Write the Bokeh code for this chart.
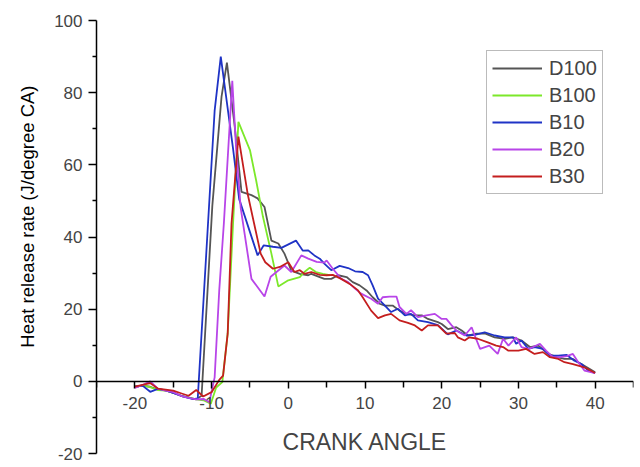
from bokeh.plotting import figure
from bokeh.models import Range1d, FixedTicker, Legend, LegendItem, Title
from bokeh.embed import file_html
from bokeh.resources import INLINE

# ---- data (crank angle, heat release rate) ----
series_names = ["D100", "B100", "B10", "B20", "B30"]
series_colors = ["#555555", "#7CE82A", "#1F33C6", "#B845E8", "#C41E1E"]

D100 = [(-20, -1.5), (-19, -1.2), (-18, -1.5), (-17, -2.3), (-16, -2.5), (-15, -3.2), (-14, -4.0),
        (-13, -4.5), (-12, -5.0), (-11.3, -4.0), (-9.9, 48.7), (-8.7, 78.9), (-8.0, 88.3), (-7.0, 71.0),
        (-6.1, 52.5), (-4.8, 51.6), (-4.0, 50.7), (-3.1, 48.3), (-2.2, 39.0), (-1.3, 38.2), (-0.5, 35.4),
        (0.4, 30.7), (1.5, 29.8), (2.6, 29.4), (3.0, 29.8), (4.1, 28.9), (4.7, 28.4), (5.6, 28.4), (6.5, 29.4),
        (7.6, 28.9), (8.4, 27.5), (9.3, 26.6), (10.2, 25.2), (11.0, 23.3), (11.9, 21.5), (12.6, 21.0),
        (13.6, 21.0), (14.5, 19.6), (15.4, 18.7), (16.5, 18.3), (17.4, 18.3), (18.2, 17.3), (19.5, 16.4),
        (20.0, 15.9), (20.8, 14.5), (21.9, 15.0), (22.6, 14.1), (23.4, 12.7), (24.5, 13.2), (25.7, 13.2),
        (26.9, 12.2), (28.2, 11.8), (29.3, 12.2), (30.4, 11.3), (31.5, 9.5), (32.6, 9.9), (33.9, 7.6),
        (35.0, 6.7), (36.0, 6.2), (37.1, 6.2), (38.2, 4.8), (39.3, 3.4), (40.0, 2.5)]

B100 = [(-20, -1.5), (-19, -1.2), (-18, -1.6), (-17, -2.4), (-16, -2.6), (-15, -3.1), (-14, -4.0),
        (-13, -4.5), (-12, -5.0), (-11, -5.3), (-10.1, -6.2), (-9.4, -1.7), (-8.6, -0.2), (-7.9, 13.2),
        (-7.2, 43.7), (-6.5, 71.9), (-5.0, 64.1), (-4.2, 55.8), (-3.3, 45.6), (-2.2, 35.4), (-1.3, 26.3),
        (0.0, 28.0), (1.5, 28.9), (2.1, 30.3), (2.8, 31.5), (3.6, 30.3), (4.5, 29.8), (5.4, 29.4)]

B10 = [(-20, -1.5), (-19, -1.2), (-18, -2.9), (-17, -2.1), (-16, -2.5), (-15, -3.2), (-14, -4.0),
       (-13, -4.6), (-12.4, -4.9), (-11.8, -4.7), (-9.6, 75.0), (-8.8, 90.0), (-7.2, 64.5), (-6.4, 50.5),
       (-4.0, 34.9), (-3.2, 37.7), (-2.0, 37.3), (-0.9, 37.0), (1.0, 39.0), (1.9, 36.2), (2.6, 36.3),
       (3.4, 34.9), (4.1, 34.0), (4.7, 32.6), (5.6, 30.8), (6.7, 32.0), (7.8, 31.4), (8.7, 30.5), (9.7, 30.3),
       (10.4, 29.4), (11.0, 26.6), (11.7, 22.9), (12.6, 21.0), (13.4, 19.2), (14.3, 20.1), (15.2, 18.3),
       (16.0, 18.7), (16.9, 16.9), (18.2, 16.4), (19.5, 15.6), (20.8, 13.0), (21.9, 14.1), (23.2, 12.7),
       (24.3, 12.9), (25.6, 13.6), (26.9, 12.7), (28.2, 12.2), (29.3, 12.2), (29.7, 10.4), (30.4, 11.3),
       (31.3, 9.0), (32.1, 9.5), (33.2, 9.0), (34.1, 7.1), (35.2, 7.1), (36.3, 7.3), (37.3, 5.7),
       (38.2, 4.8), (39.1, 3.0), (40.0, 2.3)]

B20 = [(-20, -1.8), (-19, -1.0), (-18, 0.0), (-17, -2.0), (-16, -2.6), (-15, -3.0), (-14, -4.0),
       (-13, -4.6), (-12, -5.0), (-11, -4.9), (-10.3, -5.8), (-9.6, 1.1), (-9.0, 25.2), (-8.4, 43.7),
       (-7.3, 83.3), (-6.8, 64.5), (-6.2, 48.0), (-4.8, 28.4), (-3.1, 23.5), (-2.3, 29.0), (-0.5, 32.1),
       (0.4, 30.3), (1.7, 34.9), (2.6, 34.0), (3.7, 33.1), (4.7, 32.9), (5.0, 33.5), (5.8, 31.2),
       (6.9, 28.4), (7.8, 27.5), (8.7, 25.7), (9.5, 24.3), (10.8, 22.9), (11.7, 21.5), (12.3, 23.3),
       (13.2, 23.5), (14.1, 23.5), (14.5, 20.6), (15.4, 18.7), (16.0, 19.7), (16.9, 17.8), (18.0, 18.3),
       (19.1, 18.7), (20.0, 17.3), (20.6, 17.3), (21.3, 15.5), (21.9, 14.1), (23.0, 12.7), (23.9, 15.0),
       (24.3, 12.7), (25.0, 9.0), (26.2, 9.9), (27.3, 7.6), (28.0, 11.8), (28.7, 9.9), (29.7, 12.2),
       (30.4, 9.5), (31.3, 9.0), (31.9, 9.5), (32.8, 10.4), (33.6, 8.5), (34.5, 6.7), (35.4, 6.7),
       (36.3, 7.0), (37.1, 7.6), (37.8, 5.3), (38.6, 3.0), (40.0, 2.3)]

B30 = [(-20, -1.5), (-19, -1.0), (-18, -0.5), (-17, -2.0), (-16, -2.3), (-15, -2.6), (-14, -3.3),
       (-13, -4.0), (-12, -2.4), (-11.1, -4.2), (-10, -3.0), (-9.0, 0.4), (-8.5, 1.6), (-7.9, 13.2),
       (-7.4, 43.7), (-6.5, 67.8), (-5.3, 52.0), (-3.6, 35.4), (-3.0, 33.0), (-2.0, 31.2), (-1.1, 31.7),
       (0.0, 33.0), (0.8, 30.3), (1.5, 30.8), (2.1, 29.8), (3.0, 30.3), (4.1, 29.5), (5.0, 29.4),
       (5.8, 29.5), (6.9, 28.4), (8.0, 27.0), (9.1, 25.2), (9.7, 23.3), (10.8, 19.6), (11.7, 17.5),
       (12.6, 18.3), (13.4, 18.7), (14.5, 16.9), (15.6, 16.2), (16.5, 15.5), (17.4, 14.1), (18.2, 15.5),
       (19.5, 15.5), (20.6, 13.2), (21.7, 13.4), (22.1, 12.2), (23.0, 11.3), (23.6, 12.2), (24.7, 11.8),
       (26.0, 10.8), (27.1, 9.9), (28.0, 9.5), (28.7, 8.5), (30.0, 8.5), (31.0, 9.0), (32.1, 7.6),
       (33.2, 8.1), (34.1, 6.7), (35.2, 6.2), (36.0, 5.3), (37.1, 4.8), (38.6, 3.9), (40.0, 2.3)]

x_major_ticks = [-20, -10, 0, 10, 20, 30, 40]
x_minor_ticks = [-25, -15, -5, 5, 15, 25, 35, 45]
y_major_ticks = [-20, 0, 20, 40, 60, 80, 100]
y_minor_ticks = [-10, 10, 30, 50, 70, 90]
x_title = "CRANK ANGLE"
y_title = "Heat release rate (J/degree CA)"

FONT = "Liberation Sans"

p = figure(width=640, height=467, x_range=Range1d(-25, 45), y_range=Range1d(-20, 100),
           output_backend="svg", toolbar_location=None,
           min_border_left=96, min_border_right=7, min_border_top=20, min_border_bottom=14)
p.outline_line_color = None
p.xgrid.visible = False
p.ygrid.visible = False
p.background_fill_color = "white"

# x axis crossing at y = 0
xa = p.xaxis[0]
xa.fixed_location = 0
xa.ticker = FixedTicker(ticks=x_major_ticks, minor_ticks=x_minor_ticks)
xa.major_label_overrides = {t: str(t) for t in x_major_ticks}
xa.axis_label = x_title
xa.axis_label_text_font = FONT
xa.axis_label_text_font_size = "23px"
xa.axis_label_text_font_style = "normal"
xa.axis_label_standoff = 16
xa.major_label_text_font = FONT
xa.major_label_text_font_size = "17px"
xa.major_label_standoff = 9
xa.major_tick_in = 0
xa.major_tick_out = 7
xa.minor_tick_in = 0
xa.minor_tick_out = 6
xa.axis_line_width = 1.5
xa.major_tick_line_width = 1.5
xa.minor_tick_line_width = 1.5

ya = p.yaxis[0]
ya.ticker = FixedTicker(ticks=y_major_ticks, minor_ticks=y_minor_ticks)
ya.major_label_overrides = {t: str(t) for t in y_major_ticks}
ya.major_label_text_font = FONT
ya.major_label_text_font_size = "17px"
ya.major_label_standoff = 6
ya.major_tick_in = 0
ya.major_tick_out = 8
ya.minor_tick_in = 0
ya.minor_tick_out = 4
ya.axis_line_width = 1.5
ya.major_tick_line_width = 1.5
ya.minor_tick_line_width = 1.5

# y-axis title, placed along the 0..100 part of the axis as in the reference
ytitle = Title(text=y_title, align="right", offset=65, standoff=28, vertical_align="bottom",
               text_font=FONT, text_font_size="18.5px", text_font_style="normal", text_color="black")
p.add_layout(ytitle, "left")

items = []
for name, color, pts in zip(series_names, series_colors, [D100, B100, B10, B20, B30]):
    xs = [pt[0] for pt in pts]
    ys = [pt[1] for pt in pts]
    r = p.line(xs, ys, line_color=color, line_width=1.8)
    items.append(LegendItem(label=name, renderers=[r]))

legend = Legend(items=items, location=(390, 259))
legend.border_line_color = "#777777"
legend.border_line_width = 1
legend.background_fill_color = "white"
legend.background_fill_alpha = 1.0
legend.label_text_font = FONT
legend.label_text_font_size = "20px"
legend.glyph_width = 50
legend.glyph_height = 24
legend.label_height = 24
legend.spacing = 3
legend.padding = 5
legend.label_standoff = 7
legend.margin = 0
p.add_layout(legend)

open("out.html", "w").write(file_html(p, INLINE))
